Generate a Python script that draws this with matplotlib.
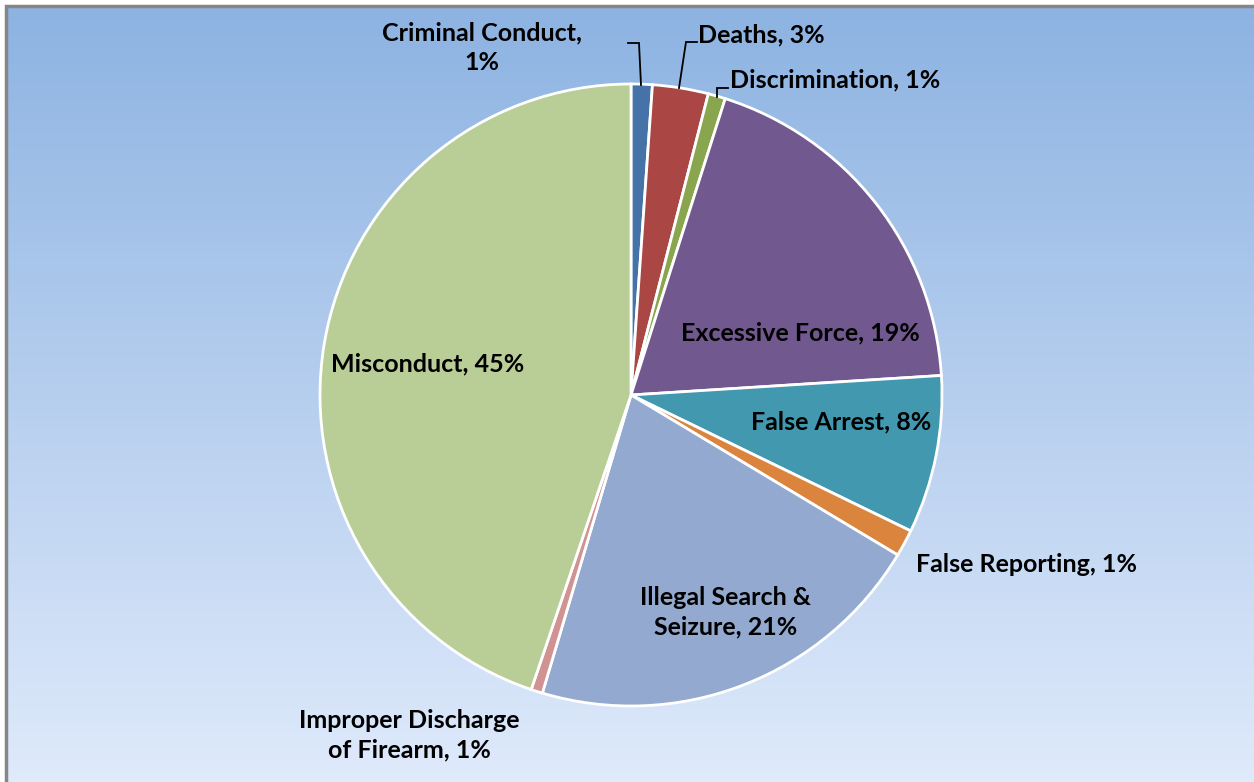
import numpy as np
import matplotlib
matplotlib.use("Agg")
import matplotlib.pyplot as plt
from matplotlib.patches import Rectangle

categories = [
    "Criminal Conduct",
    "Deaths",
    "Discrimination",
    "Excessive Force",
    "False Arrest",
    "False Reporting",
    "Illegal Search &\nSeizure",
    "Improper Discharge\nof Firearm",
    "Misconduct",
]
shares = [1.1, 2.9, 0.9, 19.1, 8.2, 1.4, 21.0, 0.6, 44.8]
colors = ["#4572A7", "#AA4643", "#89A54E", "#71588F", "#4198AF",
          "#DB843D", "#93A9CF", "#D19392", "#B9CD96"]

W, H = 1254, 782
plt.rcParams["font.family"] = ["Lato", "DejaVu Sans"]

fig = plt.figure(figsize=(W / 100, H / 100), dpi=100)
ax = fig.add_axes([0, 0, 1, 1])

cx, cy, r = 631, H - 395, 311
wedges, _ = ax.pie(shares, colors=colors, startangle=90, counterclock=False,
                   center=(cx, cy), radius=r, frame=True,
                   wedgeprops=dict(edgecolor="white", linewidth=2))
for w in wedges:
    w.set_zorder(2)

ax.set_aspect("equal")
ax.axis("off")

# background gradient, dark blue on top to pale at bottom
top = np.array([0x8D, 0xB3, 0xE2]) / 255
bot = np.array([0xDF, 0xEA, 0xFB]) / 255
t = np.linspace(0, 1, 256)[:, None]
grad = (top * (1 - t) + bot * t)[:, None, :]
ax.imshow(grad, extent=(6, W, 0, H - 6), aspect="auto", zorder=0)
ax.add_patch(Rectangle((6, -5), W, H - 6 + 5, fill=False,
                       edgecolor="#868686", linewidth=2.5, zorder=1))
ax.set_xlim(0, W)
ax.set_ylim(0, H)

labels = [f"{c}, {round(v)}%" for c, v in zip(categories, shares)]
labels[0] = "Criminal Conduct,\n1%"

tkw = dict(fontsize=18, fontweight="bold", color="black", zorder=5,
           linespacing=1.35)
ax.text(482, H - 48, labels[0], ha="center", va="center", **tkw)
ax.text(698, H - 35, labels[1], ha="left", va="center", **tkw)
ax.text(730, H - 80, labels[2], ha="left", va="center", **tkw)
ax.text(800, H - 333, labels[3], ha="center", va="center", **tkw)
ax.text(841, H - 422, labels[4], ha="center", va="center", **tkw)
ax.text(916, H - 564, labels[5], ha="left", va="center", **tkw)
ax.text(726, H - 612, labels[6], ha="center", va="center", **tkw)
ax.text(409, H - 735, labels[7], ha="center", va="center", **tkw)
ax.text(428, H - 364, labels[8], ha="center", va="center", **tkw)

# leader lines
lkw = dict(color="black", linewidth=1.3, zorder=4, solid_joinstyle="miter")
ax.plot([641, 639, 628], [H - 85, H - 43, H - 43], **lkw)
ax.plot([679, 686, 697], [H - 88, H - 42, H - 42], **lkw)
ax.plot([717, 717, 728], [H - 97, H - 88, H - 88], **lkw)

fig.savefig("out.png", dpi=100)
